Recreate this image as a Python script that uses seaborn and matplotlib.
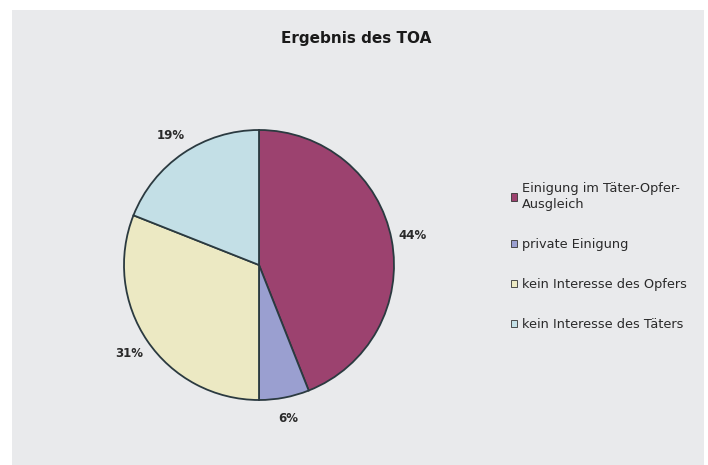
import matplotlib
matplotlib.use("Agg")
import matplotlib.pyplot as plt
import seaborn as sns
from matplotlib.patches import Patch

categories = ["Einigung im Täter-Opfer-\nAusgleich", "private Einigung",
              "kein Interesse des Opfers", "kein Interesse des Täters"]
values = [44, 6, 31, 19]
colors = ["#9c426f", "#9a9fd0", "#ece9c3", "#c3dfe6"]
title = "Ergebnis des TOA"

sns.set_theme(style="white")
plt.rcParams['font.family'] = ['DejaVu Sans']

W, H = 708, 465
fig = plt.figure(figsize=(W / 100, H / 100), dpi=100)
fig.patch.set_facecolor("white")
# gray panel
bg = fig.add_axes([12 / W, 0, (704 - 12) / W, (465 - 10) / H])
bg.set_facecolor("#e9eaec")
bg.set_xticks([]); bg.set_yticks([])
for s in bg.spines.values():
    s.set_visible(False)

R = 135
cx, cy = 259, H - 265
ax = fig.add_axes([(cx - 1.25 * R) / W, (cy - 1.25 * R) / H, 2.5 * R / W, 2.5 * R / H])
ax.set_facecolor("none")
wedges, texts, autotexts = ax.pie(
    values, colors=colors, startangle=90, counterclock=False,
    autopct=lambda p: f"{p:.0f}%", pctdistance=1.16,
    wedgeprops=dict(edgecolor="#2b3a40", linewidth=1.3),
    textprops=dict(fontsize=8.5, fontweight="bold", color="#2a2a2a"))
ax.set_xlim(-1.25, 1.25)
ax.set_ylim(-1.25, 1.25)
ax.set_aspect("equal")

fig.text(356 / W, 1 - 38 / H, title, ha="center", va="center",
         fontsize=11, fontweight="bold", color="#1a1a1a")

handles = [Patch(facecolor=c, edgecolor="#333333", linewidth=0.6) for c in colors]
leg = fig.legend(handles, categories, loc="upper left",
                 bbox_to_anchor=(511 / W, 1 - 182 / H), frameon=False,
                 fontsize=9.3, handlelength=0.5, handleheight=0.5,
                 handletextpad=0.35, labelspacing=2.1, borderaxespad=0,
                 borderpad=0)
for t in leg.get_texts():
    t.set_color("#2a2a2a")
    t.set_linespacing(1.3)

fig.savefig("out.png", dpi=100)
